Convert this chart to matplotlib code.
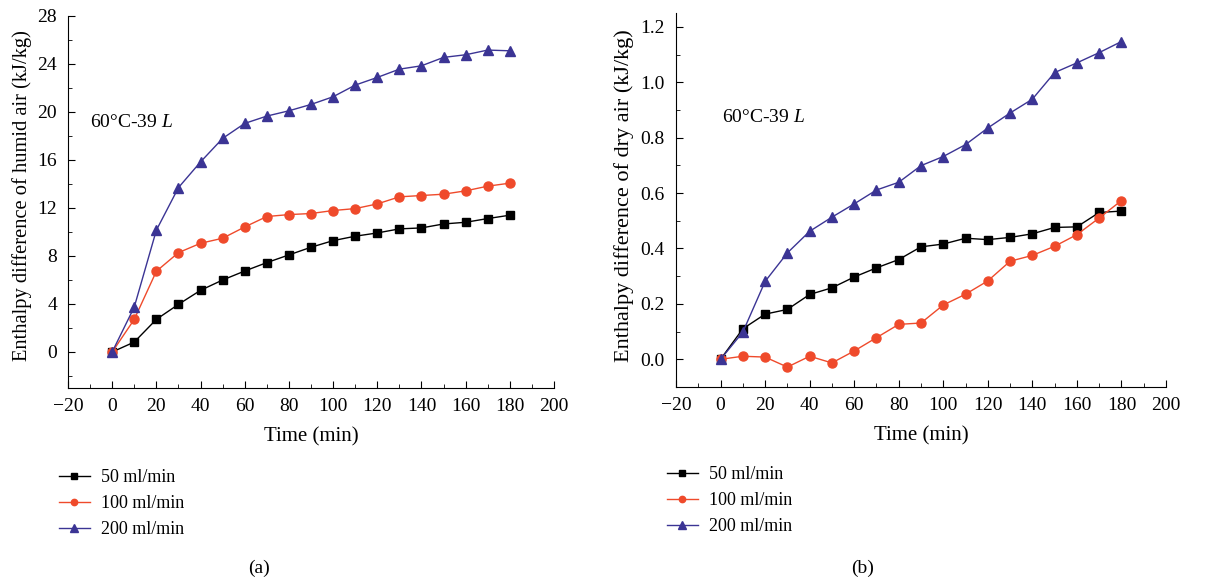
import matplotlib
matplotlib.use('Agg')
from matplotlib import pyplot as plt
from matplotlib.ticker import MultipleLocator, FormatStrFormatter

plt.rcParams['font.family'] = 'Liberation Serif'
plt.rcParams['mathtext.fontset'] = 'custom'
plt.rcParams['mathtext.it'] = 'Liberation Serif:italic'
plt.rcParams['mathtext.rm'] = 'Liberation Serif'

time = [0, 10, 20, 30, 40, 50, 60, 70, 80, 90, 100, 110, 120, 130, 140, 150, 160, 170, 180]
labels = ['50 ml/min', '100 ml/min', '200 ml/min']

# (a) humid air enthalpy difference, kJ/kg
humid_50 = [0, 0.83, 2.72, 3.97, 5.14, 6.0, 6.75, 7.45, 8.09, 8.73, 9.28, 9.65, 9.92, 10.26, 10.34, 10.67, 10.81, 11.12, 11.40]
humid_100 = [0, 2.72, 6.73, 8.28, 9.06, 9.48, 10.42, 11.29, 11.45, 11.54, 11.79, 11.95, 12.34, 12.93, 13.04, 13.15, 13.43, 13.82, 14.07]
humid_200 = [0, 3.75, 10.15, 13.7, 15.84, 17.8, 19.05, 19.66, 20.1, 20.63, 21.27, 22.24, 22.88, 23.57, 23.85, 24.55, 24.77, 25.16, 25.1]

# (b) dry air enthalpy difference, kJ/kg
dry_50 = [0, 0.11, 0.163, 0.18, 0.234, 0.258, 0.297, 0.33, 0.36, 0.406, 0.416, 0.437, 0.432, 0.44, 0.453, 0.476, 0.478, 0.53, 0.535]
dry_100 = [0, 0.011, 0.008, -0.028, 0.011, -0.013, 0.03, 0.078, 0.126, 0.131, 0.196, 0.235, 0.283, 0.354, 0.375, 0.408, 0.45, 0.51, 0.573]
dry_200 = [0, 0.098, 0.281, 0.384, 0.462, 0.513, 0.561, 0.611, 0.639, 0.699, 0.732, 0.775, 0.835, 0.889, 0.939, 1.035, 1.07, 1.107, 1.147]

colors = ['#000000', '#EF4A2B', '#3B3494']
markers = ['s', 'o', '^']
msizes = [6, 6.5, 7.5]

W, H = 1206, 582
fig = plt.figure(figsize=(W / 100, H / 100), dpi=100)


def px_axes(left, top, right, bottom):
    return fig.add_axes([left / W, 1 - bottom / H, (right - left) / W, (bottom - top) / H])


def style(ax, ylim, ymaj, ymin):
    ax.set_xlim(-20, 200)
    ax.set_ylim(*ylim)
    ax.xaxis.set_major_locator(MultipleLocator(20))
    ax.xaxis.set_minor_locator(MultipleLocator(10))
    ax.yaxis.set_major_locator(MultipleLocator(ymaj))
    ax.yaxis.set_minor_locator(MultipleLocator(ymin))
    ax.spines['top'].set_visible(False)
    ax.spines['right'].set_visible(False)
    ax.tick_params(which='both', direction='in', labelsize=14)
    ax.tick_params(which='major', length=5)
    ax.tick_params(which='minor', length=3)
    ax.tick_params(axis='x', pad=7)
    ax.tick_params(axis='y', pad=8)
    ax.set_xlabel('Time (min)', fontsize=15)
    ax.xaxis.set_label_coords(0.5, -0.105)


def add_legend(ax, x, y):
    ax.legend(loc='upper left', bbox_to_anchor=(x / W, 1 - y / H), bbox_transform=fig.transFigure,
              frameon=False, fontsize=13, handlelength=1.7, handletextpad=0.65,
              labelspacing=0.5, borderpad=0, borderaxespad=0, markerscale=0.7)


ax1 = px_axes(68, 16, 554, 388)
for ys, lab, c, m, s in zip([humid_50, humid_100, humid_200], labels, colors, markers, msizes):
    ax1.plot(time, ys, color=c, marker=m, ms=s, lw=1, label=lab)
style(ax1, (-3, 28), 4, 2)
ax1.set_ylabel('Enthalpy difference of humid air (kJ/kg)', fontsize=14.8)
ax1.yaxis.set_label_coords(-0.074, 0.516)
ax1.text(-10, 19.1, r'60°C-39 $\mathit{L}$', fontsize=14, va='center', ha='left')
add_legend(ax1, 59, 469)
fig.text(259 / W, 1 - 568 / H, '(a)', ha='center', va='center', fontsize=14)

ax2 = px_axes(676, 13, 1166, 387)
for ys, lab, c, m, s in zip([dry_50, dry_100, dry_200], labels, colors, markers, msizes):
    ax2.plot(time, ys, color=c, marker=m, ms=s, lw=1, label=lab)
style(ax2, (-0.1, 1.25), 0.2, 0.1)
ax2.yaxis.set_major_formatter(FormatStrFormatter('%.1f'))
ax2.set_ylabel('Enthalpy difference of dry air (kJ/kg)', fontsize=16)
ax2.yaxis.set_label_coords(-0.086, 0.512)
ax2.text(0.5, 0.872, r'60°C-39 $\mathit{L}$', fontsize=14, va='center', ha='left')
add_legend(ax2, 667, 466)
fig.text(863 / W, 1 - 568 / H, '(b)', ha='center', va='center', fontsize=14)

fig.savefig('out.png', dpi=100)
